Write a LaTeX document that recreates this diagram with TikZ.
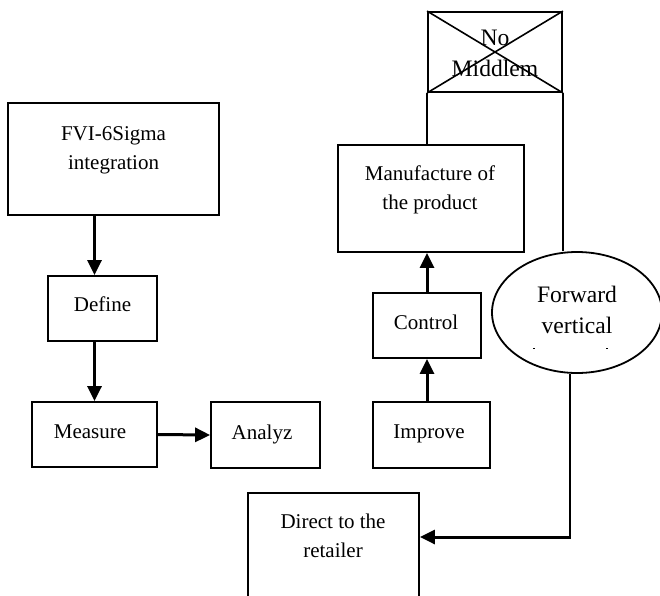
\documentclass[tikz,border=0pt]{standalone}
\usepackage{fontspec}
\setmainfont{Liberation Serif}
\usetikzlibrary{arrows.meta,shapes.geometric}
\begin{document}
\begin{tikzpicture}[x=1pt,y=-1pt,
  box/.style={draw,line width=1.8pt,inner sep=0pt},
  lbl/.style={align=center,font=\fontsize{21}{29}\selectfont,inner sep=0pt},
  big/.style={align=center,font=\fontsize{23.6}{31}\selectfont,inner sep=0pt},
  flow/.style={line width=3pt,-{Triangle[length=15pt,width=14pt]}},
  link/.style={line width=1.6pt}]
\useasboundingbox (0,0) rectangle (660,595);
\clip (0,0) rectangle (660,595);

% boxes
\node[box,minimum width=211,minimum height=112] (fvi)  at (113.5,159)   {};
\node[box,minimum width=109,minimum height=65]  (def)  at (102.5,308.5) {};
\node[box,minimum width=125,minimum height=65]  (meas) at (94.5,434.5)  {};
\node[box,minimum width=109,minimum height=66]  (ana)  at (265.5,435)   {};
\node[box,minimum width=117,minimum height=66]  (imp)  at (431.5,435)   {};
\node[box,minimum width=108,minimum height=65]  (ctl)  at (427,325.5)   {};
\node[box,minimum width=186,minimum height=107] (man)  at (431,198.5)   {};
\node[box,minimum width=134,minimum height=80]  (nm)   at (495,52)      {};
\node[box,minimum width=171,minimum height=147] (dir)  at (333.5,566.5) {};
\node[draw,line width=1.8pt,ellipse,inner sep=0pt,
      minimum width=170,minimum height=121] (ell) at (577,312.5) {};

% crossed-out box
\draw[link] (nm.north west) -- (nm.south east) (nm.north east) -- (nm.south west);

% labels
\node[lbl] (fvi-t)  at (113.5,150) {FVI-6Sigma\\integration};
\node[lbl] (def-t)  at (102.5,304.5) {Define};
\node[lbl] (meas-t) at (90,431.5) {Measure};
\node[lbl] (ana-t)  at (262,434) {Analyz};
\node[lbl] (imp-t)  at (429,434) {Improve};
\node[lbl] (ctl-t)  at (426,322) {Control};
\node[lbl] (man-t)  at (430,190) {Manufacture of\\the product};
\node[big] (nm-t)   at (495,53) {No\\Middlem};
\node[big] (ell-t)  at (577,310) {Forward\\vertical};
\node[lbl] (dir-t)  at (333,535.5) {Direct to the\\retailer};
\fill (533,347.5) rectangle (535,349);
\fill (606,347.5) rectangle (608,349);

% connectors
\draw[flow] (fvi.south -| meas) -- (def.north -| meas);
\draw[flow] (def.south -| meas) -- (meas.north);
\draw[flow] (meas.east) -- (ana.west);
\draw[flow] (imp.north -| ctl) -- (ctl.south);
\draw[flow] (ctl.north) -- (ctl.north |- man.south);
\draw[link] (nm.south west) -- (nm.south west |- man.north);
\draw[link] (nm.south east) -- (nm.south east |- ell.north);
\coordinate (bend) at (570,537);
\draw[link] (bend |- ell.south) -- ([yshift=-1.2pt]bend);
\draw[flow] ([xshift=0.8pt]bend) -- (bend -| dir.east);
\end{tikzpicture}
\end{document}
